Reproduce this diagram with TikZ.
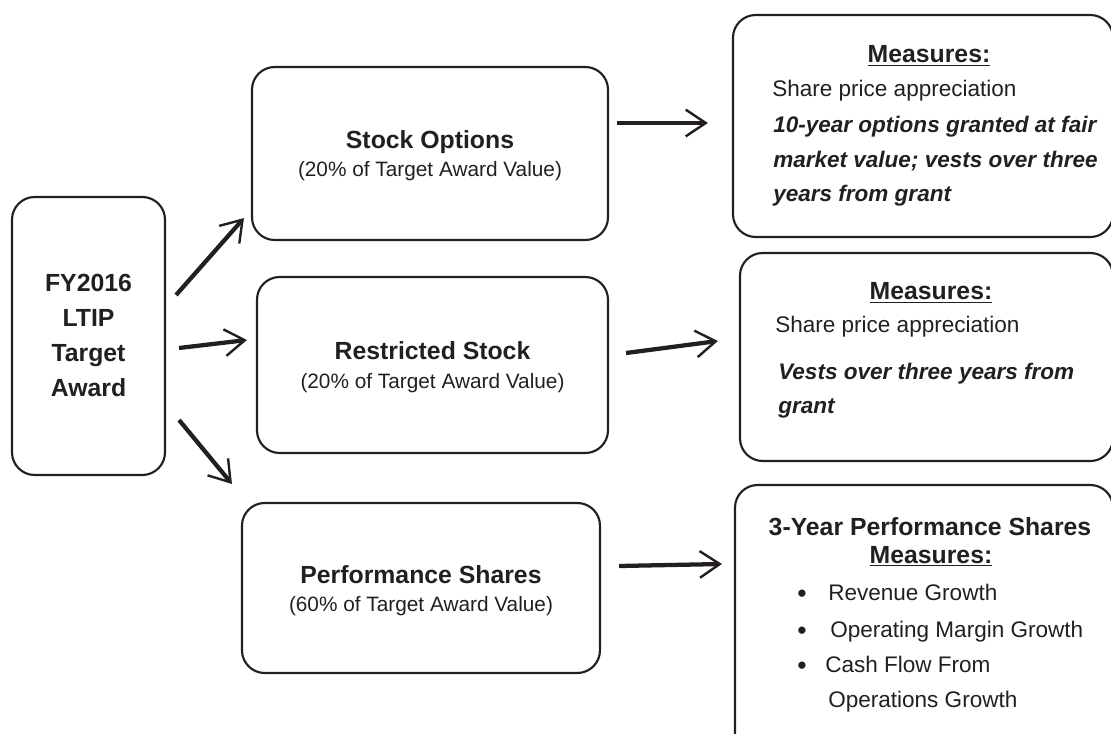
\documentclass[tikz,border=0pt]{standalone}
\usepackage{fontspec}
\setmainfont{Liberation Sans}
\usetikzlibrary{arrows.meta}
\definecolor{ink}{RGB}{35,31,32}
\begin{document}
\begin{tikzpicture}[x=0.75pt,y=-0.75pt,color=ink,
  box/.style={draw=ink, line width=1.6pt, rounded corners=17pt, inner sep=0pt},
  arr/.style={draw=ink, line width=3.2pt, -{Straight Barb[length=15pt,width=20pt,line width'=1.8pt]}},
  ctxt/.style={inner sep=0pt, anchor=base, text=ink},
  ltxt/.style={inner sep=0pt, anchor=base west, text=ink},
  hfont/.style={font=\fontsize{18.6}{22}\selectfont\bfseries},
  sfont/.style={font=\fontsize{15.6}{19}\selectfont},
  bfont/.style={font=\fontsize{16.9}{20}\selectfont},
  dotfont/.style={font=\fontsize{20}{20}\selectfont},
  ifont/.style={font=\fontsize{16.9}{20}\selectfont\bfseries\itshape}
]
\useasboundingbox (0,0) rectangle (1111,734);

% boxes
\node[box, minimum width=114.75pt, minimum height=208.5pt] (fy) at (88.5,336) {};
\node[box, minimum width=267pt, minimum height=129.75pt] (so) at (430,153.5) {};
\node[box, minimum width=263.25pt, minimum height=132pt] (rs) at (432.5,365) {};
\node[box, minimum width=268.5pt, minimum height=127.5pt] (ps) at (421,588) {};
\node[box, minimum width=285pt, minimum height=166.5pt] (m1) at (923,126) {};
\node[box, minimum width=279.75pt, minimum height=156pt] (m2) at (926.5,357) {};
\node[box, minimum width=283.5pt, minimum height=206.25pt] (m3) at (924,622.5) {};

% left box text
\node[ctxt, hfont] (fy1) at (88.5,292) {FY2016};
\node[ctxt, hfont] (fy2) at (88.5,327) {LTIP};
\node[ctxt, hfont] (fy3) at (88.5,362) {Target};
\node[ctxt, hfont] (fy4) at (88.5,397) {Award};

% middle texts
\node[ctxt, hfont] (so1) at (430,148.5) {Stock Options};
\node[ctxt, sfont] (so2) at (430,176.5) {(20\% of Target Award Value)};
\node[ctxt, hfont] (rs1) at (432.5,360) {Restricted Stock};
\node[ctxt, sfont] (rs2) at (432.5,388) {(20\% of Target Award Value)};
\node[ctxt, hfont] (ps1) at (421,583) {Performance Shares};
\node[ctxt, sfont] (ps2) at (421,611) {(60\% of Target Award Value)};

% right top
\node[ctxt, hfont] (m1a) at (929,63) {\underline{Measures:}};
\node[ltxt, bfont] (m1b) at (772,97) {Share price appreciation};
\node[ltxt, ifont] (m1c) at (773,133) {10-year options granted at fair};
\node[ltxt, ifont] (m1d) at (773,168) {market value; vests over three};
\node[ltxt, ifont] (m1e) at (773,202) {years from grant};

% right middle
\node[ctxt, hfont] (m2a) at (931,300) {\underline{Measures:}};
\node[ltxt, bfont] (m2b) at (775,333) {Share price appreciation};
\node[ltxt, ifont] (m2c) at (778,380) {Vests over three years from};
\node[ltxt, ifont] (m2d) at (778,413) {grant};

% right bottom
\node[ctxt, hfont] (m3a) at (930,535) {3-Year Performance Shares};
\node[ctxt, hfont] (m3b) at (931,563) {\underline{Measures:}};
\node[ctxt, dotfont] (b1) at (802,602.5) {\textbullet};
\node[ctxt, dotfont] (b2) at (802,639.5) {\textbullet};
\node[ctxt, dotfont] (b3) at (802,674.5) {\textbullet};
\node[ltxt, bfont] (m3c) at (828,600) {Revenue Growth};
\node[ltxt, bfont] (m3d) at (830,637) {Operating Margin Growth};
\node[ltxt, bfont] (m3e) at (825,672) {Cash Flow From};
\node[ltxt, bfont] (m3f) at (828,707) {Operations Growth};

% arrows
\draw[arr] ([shift={(10,-41)}]fy.east) -- ([shift={(-7,-23)}]so.south west);
\draw[arr] ([shift={(13,12)}]fy.east) -- ([shift={(-9,-25)}]rs.west);
\draw[arr] ([shift={(13,84)}]fy.east) -- ([shift={(-9,-18)}]ps.north west);
\draw[arr] ([shift={(8,-30.5)}]so.east) -- ([shift={(-24,-3)}]m1.west);
\draw[arr] ([shift={(17,-12)}]rs.east) -- ([shift={(-21,-16)}]m2.west);
\draw[arr] ([shift={(18,-22)}]ps.east) -- ([shift={(-12,-58.5)}]m3.west);
\end{tikzpicture}
\end{document}
